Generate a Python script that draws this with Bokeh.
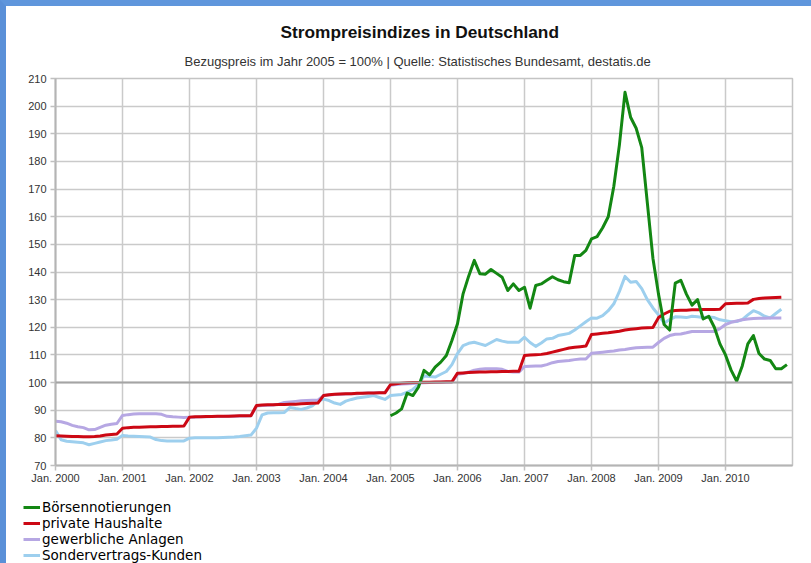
from bokeh.plotting import figure
from bokeh.layouts import column
from bokeh.models import (Range1d, FixedTicker, CustomJSTickFormatter, Title, Legend,
                          LegendItem, Span, ColumnDataSource)
from bokeh.embed import file_html
from bokeh.resources import INLINE

# ---------------- data (monthly index values, 2005 = 100) ----------------
START_YEAR = 2000          # private / gewerbliche / Sondervertrag start Jan 2000
GREEN_START_YEAR = 2005    # Börsennotierungen start Jan 2005

private_haushalte = [
    80.8, 80.7, 80.6, 80.5, 80.5, 80.4, 80.4, 80.5, 80.7, 81.0, 81.2, 81.4,
    83.5, 83.7, 83.8, 83.8, 83.9, 84.0, 84.0, 84.1, 84.1, 84.2, 84.2, 84.3,
    87.5, 87.6, 87.6, 87.7, 87.7, 87.8, 87.8, 87.8, 87.9, 88.0, 88.0, 88.0,
    91.7, 91.9, 92.0, 92.0, 92.1, 92.1, 92.2, 92.2, 92.3, 92.4, 92.5, 92.6,
    95.3, 95.6, 95.8, 95.9, 96.0, 96.0, 96.1, 96.1, 96.2, 96.2, 96.3, 96.3,
    99.3, 99.6, 99.8, 99.9, 100.0, 100.0, 100.1, 100.1, 100.2, 100.2, 100.3, 100.3,
    103.4, 103.5, 103.6, 103.7, 103.8, 103.8, 103.9, 103.9, 104.0, 104.0, 104.1, 104.1,
    109.8, 110.0, 110.1, 110.2, 110.5, 111.0, 111.5, 112.0, 112.5, 112.8, 113.0, 113.2,
    117.4, 117.6, 117.8, 118.0, 118.3, 118.6, 119.0, 119.3, 119.5, 119.7, 119.8, 119.9,
    123.5, 124.8, 125.8, 126.1, 126.2, 126.2, 126.3, 126.3, 126.4, 126.4, 126.4, 126.5,
    128.5, 128.6, 128.7, 128.7, 128.8, 130.1, 130.4, 130.6, 130.7, 130.8, 130.9,
]

gewerbliche_anlagen = [
    86.0, 85.8, 85.3, 84.5, 84.0, 83.7, 82.9, 83.0, 83.8, 84.6, 84.9, 85.2,
    88.1, 88.4, 88.6, 88.7, 88.7, 88.7, 88.7, 88.5, 87.8, 87.6, 87.5, 87.4,
    87.5, 87.5, 87.6, 87.6, 87.7, 87.7, 87.7, 87.8, 87.8, 87.9, 87.9, 88.0,
    91.5, 91.7, 91.8, 91.9, 92.2, 92.8, 93.0, 93.2, 93.4, 93.5, 93.6, 93.6,
    95.3, 95.5, 95.7, 95.8, 95.9, 96.0, 96.0, 96.1, 96.2, 96.2, 96.3, 96.3,
    99.0, 99.3, 99.5, 99.6, 99.7, 99.8, 99.9, 100.0, 100.0, 100.1, 100.1, 100.2,
    103.0, 103.3, 103.8, 104.5, 104.8, 105.0, 105.0, 105.0, 104.8, 104.0, 103.8, 103.8,
    105.8, 105.9, 106.0, 106.0, 106.5, 107.2, 107.6, 107.8, 108.0, 108.3, 108.5, 108.5,
    110.6, 110.8, 111.0, 111.2, 111.4, 111.8, 112.0, 112.3, 112.6, 112.7, 112.8, 112.8,
    114.5, 116.0, 117.0, 117.5, 117.6, 118.0, 118.5, 118.5, 118.5, 118.5, 118.5, 119.5,
    121.0, 121.8, 122.3, 122.7, 123.0, 123.2, 123.3, 123.3, 123.4, 123.4, 123.4,
]

sondervertrags_kunden = [
    82.7, 79.3, 78.8, 78.6, 78.4, 78.2, 77.5, 78.0, 78.5, 79.0, 79.2, 79.5,
    80.9, 80.7, 80.6, 80.5, 80.4, 80.3, 79.4, 79.0, 78.9, 78.9, 78.9, 78.9,
    79.9, 80.0, 80.0, 80.0, 80.0, 80.0, 80.1, 80.2, 80.3, 80.5, 80.8, 81.0,
    83.5, 88.3, 89.0, 89.1, 89.1, 89.2, 91.0, 90.6, 90.3, 90.8, 91.6, 93.3,
    94.0, 93.5, 92.6, 92.1, 93.3, 93.9, 94.4, 94.7, 95.0, 95.3, 94.6, 93.9,
    95.3, 95.5, 95.7, 96.5, 97.5, 99.3, 102.4, 102.2, 102.0, 103.0, 104.0, 106.5,
    110.5, 113.4, 114.2, 114.6, 114.0, 113.4, 114.5, 115.6, 115.0, 114.6, 114.6, 114.6,
    116.4, 114.5, 113.1, 114.3, 115.8, 116.0, 117.0, 117.4, 117.8, 119.0, 120.5, 122.0,
    123.4, 123.3, 124.2, 126.0, 128.5, 133.0, 138.4, 136.3, 136.6, 134.0, 130.0, 127.0,
    124.5, 121.5, 122.8, 123.8, 123.7, 123.5, 124.0, 123.8, 123.5, 123.7, 123.5, 122.7,
    122.4, 122.0, 122.1, 122.8, 124.5, 126.0, 125.2, 124.0, 123.4, 125.0, 126.5,
]

boersennotierungen = [
    88.0, 89.0, 90.5, 96.2, 95.3, 98.3, 104.4, 102.8, 105.6, 107.4, 109.8, 115.2,
    121.3, 132.1, 138.5, 144.2, 139.4, 139.2, 140.9, 139.5, 138.1, 133.3, 135.7, 133.3,
    134.5, 126.9, 135.1, 135.7, 137.0, 138.3, 137.2, 136.5, 136.1, 146.0, 146.0, 147.8,
    152.0, 152.8, 156.0, 160.0, 171.0, 186.0, 205.0, 196.0, 192.0, 185.0, 165.0, 145.0,
    132.0, 121.0, 119.0, 136.0, 137.0, 132.0, 128.0, 130.0, 123.0, 124.0, 120.0, 114.0,
    110.0, 104.5, 100.5, 106.0, 114.0, 117.0, 110.5, 108.5, 108.0, 105.0, 105.0, 106.5,
]

year_ticks = list(range(2000, 2011))
value_ticks = list(range(70, 211, 10))

series_names = ["Börsennotierungen", "private Haushalte", "gewerbliche Anlagen", "Sondervertrags-Kunden"]
series_colors = ["#138713", "#cc0814", "#b6a7e3", "#9dcfee"]


def months(start_year, n):
    return [start_year + i / 12.0 for i in range(n)]


data = [
    (months(GREEN_START_YEAR, len(boersennotierungen)), boersennotierungen),
    (months(START_YEAR, len(private_haushalte)), private_haushalte),
    (months(START_YEAR, len(gewerbliche_anlagen)), gewerbliche_anlagen),
    (months(START_YEAR, len(sondervertrags_kunden)), sondervertrags_kunden),
]

# ---------------- main figure ----------------
p = figure(width=805, height=488, output_backend="svg", toolbar_location=None,
           title=None,
           x_range=Range1d(2000, 2011), y_range=Range1d(70, 210),
           min_border_left=49, min_border_right=19, min_border_top=72, min_border_bottom=29)
p.frame_align = False
p.background_fill_color = "white"
p.border_fill_color = "white"
p.outline_line_color = "#c4c4c4"
p.outline_line_width = 1.5

sub = Title(text="Bezugspreis im Jahr 2005 = 100% | Quelle: Statistisches Bundesamt, destatis.de",
            align="left", offset=129, text_font="Liberation Sans", text_font_size="13px",
            text_font_style="normal", text_color="#333333", standoff=19)
p.add_layout(sub, "above")
main = Title(text="Strompreisindizes in Deutschland", align="left", offset=225,
             text_font="Liberation Sans", text_font_size="17.3px", text_font_style="bold",
             text_color="#111111", standoff=2)
p.add_layout(main, "above")

for ax in (p.xaxis[0], p.yaxis[0]):
    ax.axis_line_color = "#b4b4b4"
    ax.axis_line_width = 2
    ax.major_tick_line_color = "#c0c0c0"
    ax.major_tick_line_width = 1.5
    ax.major_tick_in = 0
    ax.major_tick_out = 5
    ax.minor_tick_line_color = None
    ax.major_label_text_font = "Liberation Sans"
    ax.major_label_text_font_size = "11px"
    ax.major_label_text_color = "#333333"

p.xaxis.ticker = FixedTicker(ticks=year_ticks)
p.xaxis.formatter = CustomJSTickFormatter(code="return 'Jan. ' + tick.toFixed(0);")
p.xaxis.major_label_standoff = 1
p.yaxis.ticker = FixedTicker(ticks=value_ticks)
p.yaxis.major_label_standoff = 4

p.grid.grid_line_color = "#cacaca"
p.grid.grid_line_width = 1.5

p.add_layout(Span(location=100, dimension="width", line_color="#a4a4a4", line_width=2))

for i in [3, 2, 1, 0]:
    xs, ys = data[i]
    src = ColumnDataSource(dict(x=xs, y=ys))
    p.line("x", "y", source=src, line_color=series_colors[i], line_width=3, line_join="round")

# ---------------- legend strip below the chart ----------------
lg = figure(width=805, height=69, output_backend="svg", toolbar_location=None,
            title=None, x_axis_location=None, y_axis_location=None,
            x_range=Range1d(0, 1), y_range=Range1d(0, 1),
            min_border_left=17, min_border_top=5, min_border_right=0, min_border_bottom=0)
lg.frame_align = False
lg.grid.visible = False
lg.outline_line_color = None
lg.background_fill_color = "white"
lg.border_fill_color = "white"
items = []
for i in range(4):
    xs, ys = data[i]
    # same series, outside this strip's visible range: only the legend key shows
    r = lg.line(x=xs, y=ys, line_color=series_colors[i], line_width=3)
    items.append(LegendItem(label=series_names[i], renderers=[r]))
legend = Legend(items=items, location="top_left", orientation="vertical",
                label_text_font="DejaVu Sans", label_text_font_size="13.5px",
                label_text_color="#000000",
                glyph_width=17, glyph_height=14, label_height=16, spacing=0,
                padding=0, margin=0, label_standoff=2,
                border_line_color=None, background_fill_alpha=0)
lg.add_layout(legend)

page = column(p, lg, spacing=0)
page.styles = {"border-left": "6px solid #5a90d8", "border-top": "6px solid #5f96dc"}

open("out.html", "w").write(file_html(page, INLINE))
